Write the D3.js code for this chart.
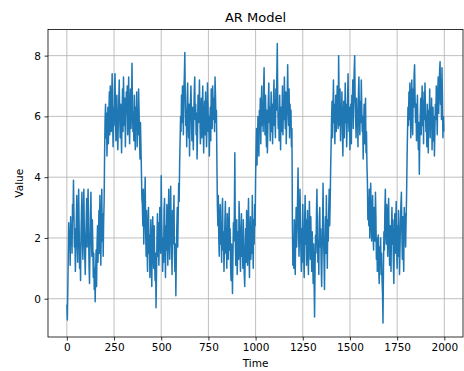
<!DOCTYPE html>
<html lang="en">
<head>
    <meta charset="UTF-8">
    <title>AR Model</title>
    <script src="https://cdn.jsdelivr.net/npm/d3@7"></script>
</head>
<body>
    <div id="chart-space"></div>

    <script>
        // values, one sample every 2.5 steps, one array per 200-step regime
        var step = 2.5;
        var segLength = 200;
        var seg0 = [-0.2, -0.7, 0.3, 1.4, 2.5, 1.9, 2.2, 1.1, 2.7, 1.8, 2.4, 1.5, 3.1, 2.6, 3.9, 2.8, 1.7, 2.3, 0.9, 1.6, 2.5, 3.4, 2.0, 1.2, 2.7, 3.6, 2.4, 1.0, 1.8, 0.6, 2.1, 2.9, 3.5, 1.9, 1.3, 2.6, 3.6, 2.2, 1.4, 0.8, 1.9, 2.5, 3.3, 1.7, 2.9, 3.6, 2.3, 1.1, 0.5, 1.6, 2.8, 3.5, 2.1, 1.4, 2.6, 1.8, 0.7, 1.5, 0.3, 1.0, -0.1, 0.9, 1.6, 0.4, 1.8, 2.4, 1.2, 2.0, 2.9, 1.5, 3.4, 2.2, 1.1, 2.5, 3.6, 1.9, 2.8, 1.4, 2.6, 3.2];
        var seg1 = [4.8, 5.9, 6.4, 5.3, 6.1, 4.7, 5.6, 6.3, 5.1, 6.0, 6.8, 5.4, 7.0, 6.2, 5.5, 6.6, 7.4, 5.9, 5.0, 6.3, 5.7, 6.9, 7.4, 6.1, 5.2, 6.0, 6.7, 5.4, 4.9, 5.8, 6.5, 7.2, 6.0, 5.3, 6.4, 5.6, 4.8, 6.1, 6.9, 5.5, 7.3, 6.2, 5.7, 6.6, 5.0, 5.9, 6.8, 6.1, 7.0, 5.4, 6.3, 7.3, 5.8, 5.1, 6.4, 6.9, 5.6, 6.2, 7.75, 6.4, 5.5, 6.0, 5.2, 6.7, 5.9, 4.9, 6.3, 5.6, 6.8, 5.0, 6.1, 5.4, 6.9, 6.2, 5.3, 4.6, 5.8, 5.0, 4.2, 3.3];
        var seg2 = [3.1, 2.4, 3.6, 1.8, 2.6, 3.2, 4.0, 2.2, 1.4, 2.9, 1.7, 0.9, 2.3, 3.0, 1.5, 2.1, 0.7, 1.8, 2.6, 1.2, 0.4, 1.9, 2.7, 1.6, 1.0, 2.4, 1.3, 0.6, 1.5, -0.3, 0.8, 2.0, 2.8, 1.4, 2.5, 1.1, 1.9, 3.0, 2.2, 1.5, 4.05, 2.6, 1.8, 0.9, 2.0, 1.2, 2.9, 3.3, 1.7, 0.7, 2.4, 1.6, 3.1, 2.0, 1.1, 2.7, 3.6, 1.9, 1.3, 2.5, 3.7, 2.2, 1.6, 0.8, 2.9, 1.8, 2.6, 3.4, 1.5, 0.9, 1.8, 0.1, 1.4, 2.3, 3.0, 1.7, 2.8, 3.8, 3.2, 4.4];
        var seg3 = [5.2, 6.0, 5.5, 6.7, 5.8, 7.0, 6.3, 5.4, 6.9, 7.3, 8.1, 6.5, 5.7, 6.2, 5.0, 6.6, 7.1, 5.9, 5.3, 6.4, 4.7, 5.8, 6.5, 7.0, 6.1, 5.2, 6.3, 5.6, 4.9, 6.0, 6.8, 7.3, 5.9, 6.4, 5.4, 6.1, 4.6, 5.5, 6.7, 5.8, 6.3, 7.2, 6.0, 5.1, 5.7, 6.6, 5.3, 6.2, 7.0, 5.6, 4.8, 5.9, 6.5, 5.4, 6.8, 6.1, 5.0, 5.7, 7.1, 6.4, 5.5, 6.0, 4.7, 5.8, 6.3, 5.2, 6.9, 6.2, 5.6, 7.0, 6.4, 5.9, 6.6, 5.5, 7.3, 6.7, 5.8, 6.2, 4.5, 3.1];
        var seg4 = [2.4, 3.4, 2.0, 1.4, 2.7, 3.1, 1.8, 2.5, 1.2, 2.9, 3.3, 1.6, 2.2, 0.9, 1.7, 2.6, 3.2, 1.5, 2.1, 1.0, 2.8, 1.9, 1.3, 2.4, 3.0, 1.6, 2.3, 1.1, 0.6, 1.8, 1.2, 0.17, 1.4, 2.5, 1.9, 2.8, 4.8, 2.0, 1.1, 1.7, 2.6, 0.8, 1.5, 2.2, 1.3, 3.2, 2.4, 1.6, 0.9, 2.1, 2.8, 1.4, 2.0, 1.0, 2.6, 1.7, 0.8, 0.4, 1.5, 2.3, 1.2, 2.9, 1.8, 1.1, 2.5, 3.3, 1.6, 0.7, 1.9, 2.7, 1.3, 2.2, 1.5, 3.4, 2.0, 1.0, 2.6, 1.8, 3.1, 2.4];
        var seg5 = [4.0, 4.9, 5.6, 4.4, 5.2, 6.0, 5.3, 4.7, 6.2, 5.8, 6.6, 5.1, 6.3, 7.0, 5.7, 6.4, 5.5, 6.9, 7.6, 6.1, 5.4, 6.7, 5.9, 5.0, 6.2, 4.8, 5.6, 6.5, 7.1, 5.8, 6.3, 5.2, 6.0, 6.8, 5.5, 6.4, 5.1, 5.9, 6.6, 7.2, 5.7, 6.1, 5.3, 6.9, 6.2, 7.3, 8.4, 6.4, 5.6, 6.0, 5.2, 6.7, 5.8, 4.9, 6.3, 5.5, 6.1, 7.0, 5.4, 6.5, 5.9, 7.3, 6.2, 5.6, 6.8, 5.1, 6.0, 6.6, 7.7, 6.3, 5.7, 6.9, 5.3, 6.4, 5.8, 6.2, 5.0, 5.6, 2.5, 1.1];
        var seg6 = [2.0, 1.0, 2.6, 1.5, 0.8, 2.2, 3.0, 1.7, 2.4, 3.3, 4.3, 2.5, 1.4, 2.1, 3.6, 2.8, 1.6, 0.9, 2.3, 1.2, 3.1, 2.0, 1.4, 0.7, 2.5, 3.4, 1.8, 2.6, 1.1, 1.9, 2.9, 1.5, 0.8, 2.0, 3.2, 2.4, 1.3, 2.7, 1.7, 0.9, 2.2, 1.4, 0.5, 1.8, 0.6, -0.6, 1.0, 2.1, 1.5, 2.8, 3.6, 2.2, 1.2, 1.9, 0.8, 2.6, 3.0, 1.7, 2.3, 1.1, 0.4, 1.6, 2.5, 3.8, 2.0, 1.3, 0.3, 1.8, 2.7, 1.5, 3.4, 2.2, 1.0, 2.6, 1.9, 2.9, 3.6, 2.4, 3.1, 4.2];
        var seg7 = [5.0, 5.9, 6.5, 5.3, 6.2, 7.2, 5.8, 6.4, 5.1, 6.0, 6.7, 5.5, 6.3, 7.0, 6.1, 5.6, 8.0, 6.6, 5.7, 6.9, 5.2, 6.2, 5.9, 6.8, 5.4, 4.7, 6.0, 6.5, 5.3, 6.1, 7.1, 5.8, 6.4, 5.0, 5.7, 6.6, 7.4, 6.0, 5.5, 6.3, 4.9, 5.8, 6.4, 5.1, 6.7, 6.2, 7.2, 5.6, 6.9, 7.5, 8.0, 6.5, 5.9, 5.3, 6.6, 5.7, 6.2, 5.0, 6.8, 7.3, 6.1, 5.4, 6.5, 5.8, 7.2, 6.3, 5.5, 6.0, 4.6, 5.6, 6.4, 5.1, 5.9, 6.6, 4.8, 5.5, 4.4, 3.8, 2.6, 3.3];
        var seg8 = [2.4, 3.6, 2.0, 3.1, 3.8, 2.5, 1.9, 2.8, 3.4, 2.2, 1.6, 3.0, 2.4, 1.9, 3.5, 2.7, 1.3, 2.0, 0.9, 1.5, 2.1, 1.0, 0.5, 1.7, 1.2, 2.0, 0.8, 1.5, 0.6, 0.2, -0.8, 1.0, 2.2, 1.6, 2.9, 3.6, 2.3, 1.8, 3.1, 2.5, 1.4, 2.7, 3.3, 2.0, 1.1, 2.4, 1.6, 0.9, 2.3, 3.0, 1.8, 2.6, 1.2, 0.5, 1.9, 2.8, 1.5, 2.2, 3.2, 1.7, 1.0, 2.4, 1.4, 2.9, 2.0, 0.8, 1.6, 2.5, 3.1, 3.5, 2.2, 1.3, 2.7, 1.5, 0.9, 3.0, 2.1, 2.8, 1.7, 2.6];
        var seg9 = [3.4, 4.6, 5.5, 6.3, 5.7, 6.8, 5.9, 7.1, 6.2, 5.3, 6.5, 7.2, 6.0, 5.4, 6.9, 6.3, 7.4, 7.7, 6.6, 5.8, 6.4, 5.2, 6.1, 6.7, 5.5, 4.9, 5.8, 4.1, 5.3, 6.0, 6.6, 5.4, 6.2, 7.0, 5.7, 6.5, 5.1, 6.8, 5.9, 7.1, 6.3, 5.5, 6.0, 5.0, 6.4, 5.7, 4.8, 6.2, 5.6, 6.9, 5.3, 6.1, 5.8, 6.6, 4.9, 5.7, 6.3, 5.2, 6.0, 4.7, 5.5, 6.4, 5.9, 7.0, 6.2, 5.4, 6.7, 7.3, 6.1, 6.8, 7.5, 7.8, 6.4, 7.2, 5.9, 7.6, 6.6, 5.3, 6.0, 5.5];

        var xTicks = [0, 250, 500, 750, 1000, 1250, 1500, 1750, 2000];
        var yTicks = [0, 2, 4, 6, 8];

        var segments = [seg0, seg1, seg2, seg3, seg4, seg5, seg6, seg7, seg8, seg9];
        var data = [];
        segments.forEach(function(seg, s) {
            seg.forEach(function(v, i) {
                data.push({t: s * segLength + i * step, v: v});
            });
        });

        var width = 464;
        var height = 371;
        var margin = {top: 29.5, right: 1, bottom: 34, left: 48};
        var chartWidth = width - margin.left - margin.right;
        var chartHeight = height - margin.top - margin.bottom;

        var svg = d3.select("#chart-space")
            .append("svg")
            .attr("width", width)
            .attr("height", height);

        var g = svg.append("g")
            .attr("transform", "translate(" + margin.left + "," + margin.top + ")");

        // matplotlib style 5% margins
        var tMax = 1999;
        var xScale = d3.scaleLinear()
            .domain([-0.05 * tMax, 1.05 * tMax])
            .range([0, chartWidth]);

        var ext = d3.extent(data, function(d) { return d.v; });
        var pad = (ext[1] - ext[0]) * 0.05;
        var yScale = d3.scaleLinear()
            .domain([ext[0] - pad, ext[1] + pad])
            .range([chartHeight, 0]);

        // grid
        g.append("g").selectAll("line")
            .data(xTicks)
            .join("line")
            .attr("class", "grid")
            .attr("x1", function(d) { return xScale(d); })
            .attr("x2", function(d) { return xScale(d); })
            .attr("y1", 0)
            .attr("y2", chartHeight);

        g.append("g").selectAll("line")
            .data(yTicks)
            .join("line")
            .attr("class", "grid")
            .attr("x1", 0)
            .attr("x2", chartWidth)
            .attr("y1", function(d) { return yScale(d); })
            .attr("y2", function(d) { return yScale(d); });

        var line = d3.line()
            .x(function(d) { return xScale(d.t); })
            .y(function(d) { return yScale(d.v); });

        g.append("path")
            .datum(data)
            .attr("fill", "none")
            .attr("stroke", "#1f77b4")
            .attr("stroke-width", 1.5)
            .attr("stroke-linejoin", "round")
            .attr("d", line);

        g.append("g")
            .attr("class", "axis")
            .attr("transform", "translate(0," + chartHeight + ")")
            .call(d3.axisBottom(xScale).tickValues(xTicks).tickFormat(d3.format("d")).tickSize(3.5).tickPadding(3.5).tickSizeOuter(0))
            .call(function(a) { a.select(".domain").remove(); });

        g.append("g")
            .attr("class", "axis")
            .call(d3.axisLeft(yScale).tickValues(yTicks).tickFormat(d3.format("d")).tickSize(3.5).tickPadding(3.5).tickSizeOuter(0))
            .call(function(a) { a.select(".domain").remove(); });

        g.append("rect")
            .attr("width", chartWidth)
            .attr("height", chartHeight)
            .attr("fill", "none")
            .attr("stroke", "black")
            .attr("stroke-width", 0.8);

        svg.append("text")
            .attr("x", margin.left + chartWidth / 2)
            .attr("y", 22)
            .attr("text-anchor", "middle")
            .style("font-size", "13px")
            .text("AR Model");

        svg.append("text")
            .attr("x", margin.left + chartWidth / 2)
            .attr("y", 367)
            .attr("text-anchor", "middle")
            .style("font-size", "10.5px")
            .text("Time");

        svg.append("text")
            .attr("transform", "translate(23," + (margin.top + chartHeight / 2) + ") rotate(-90)")
            .attr("text-anchor", "middle")
            .style("font-size", "10.5px")
            .text("Value");
    </script>

    <style>
        body {
            margin: 0;
            background-color: white;
        }
        svg text, .axis text {
            font-family: "DejaVu Sans", sans-serif;
            fill: black;
        }
        .axis text {
            font-size: 10.5px;
        }
        .axis .tick line {
            stroke: black;
            stroke-width: 0.8;
        }
        .grid {
            stroke: #b0b0b0;
            stroke-width: 0.8;
        }
    </style>
</body>
</html>
